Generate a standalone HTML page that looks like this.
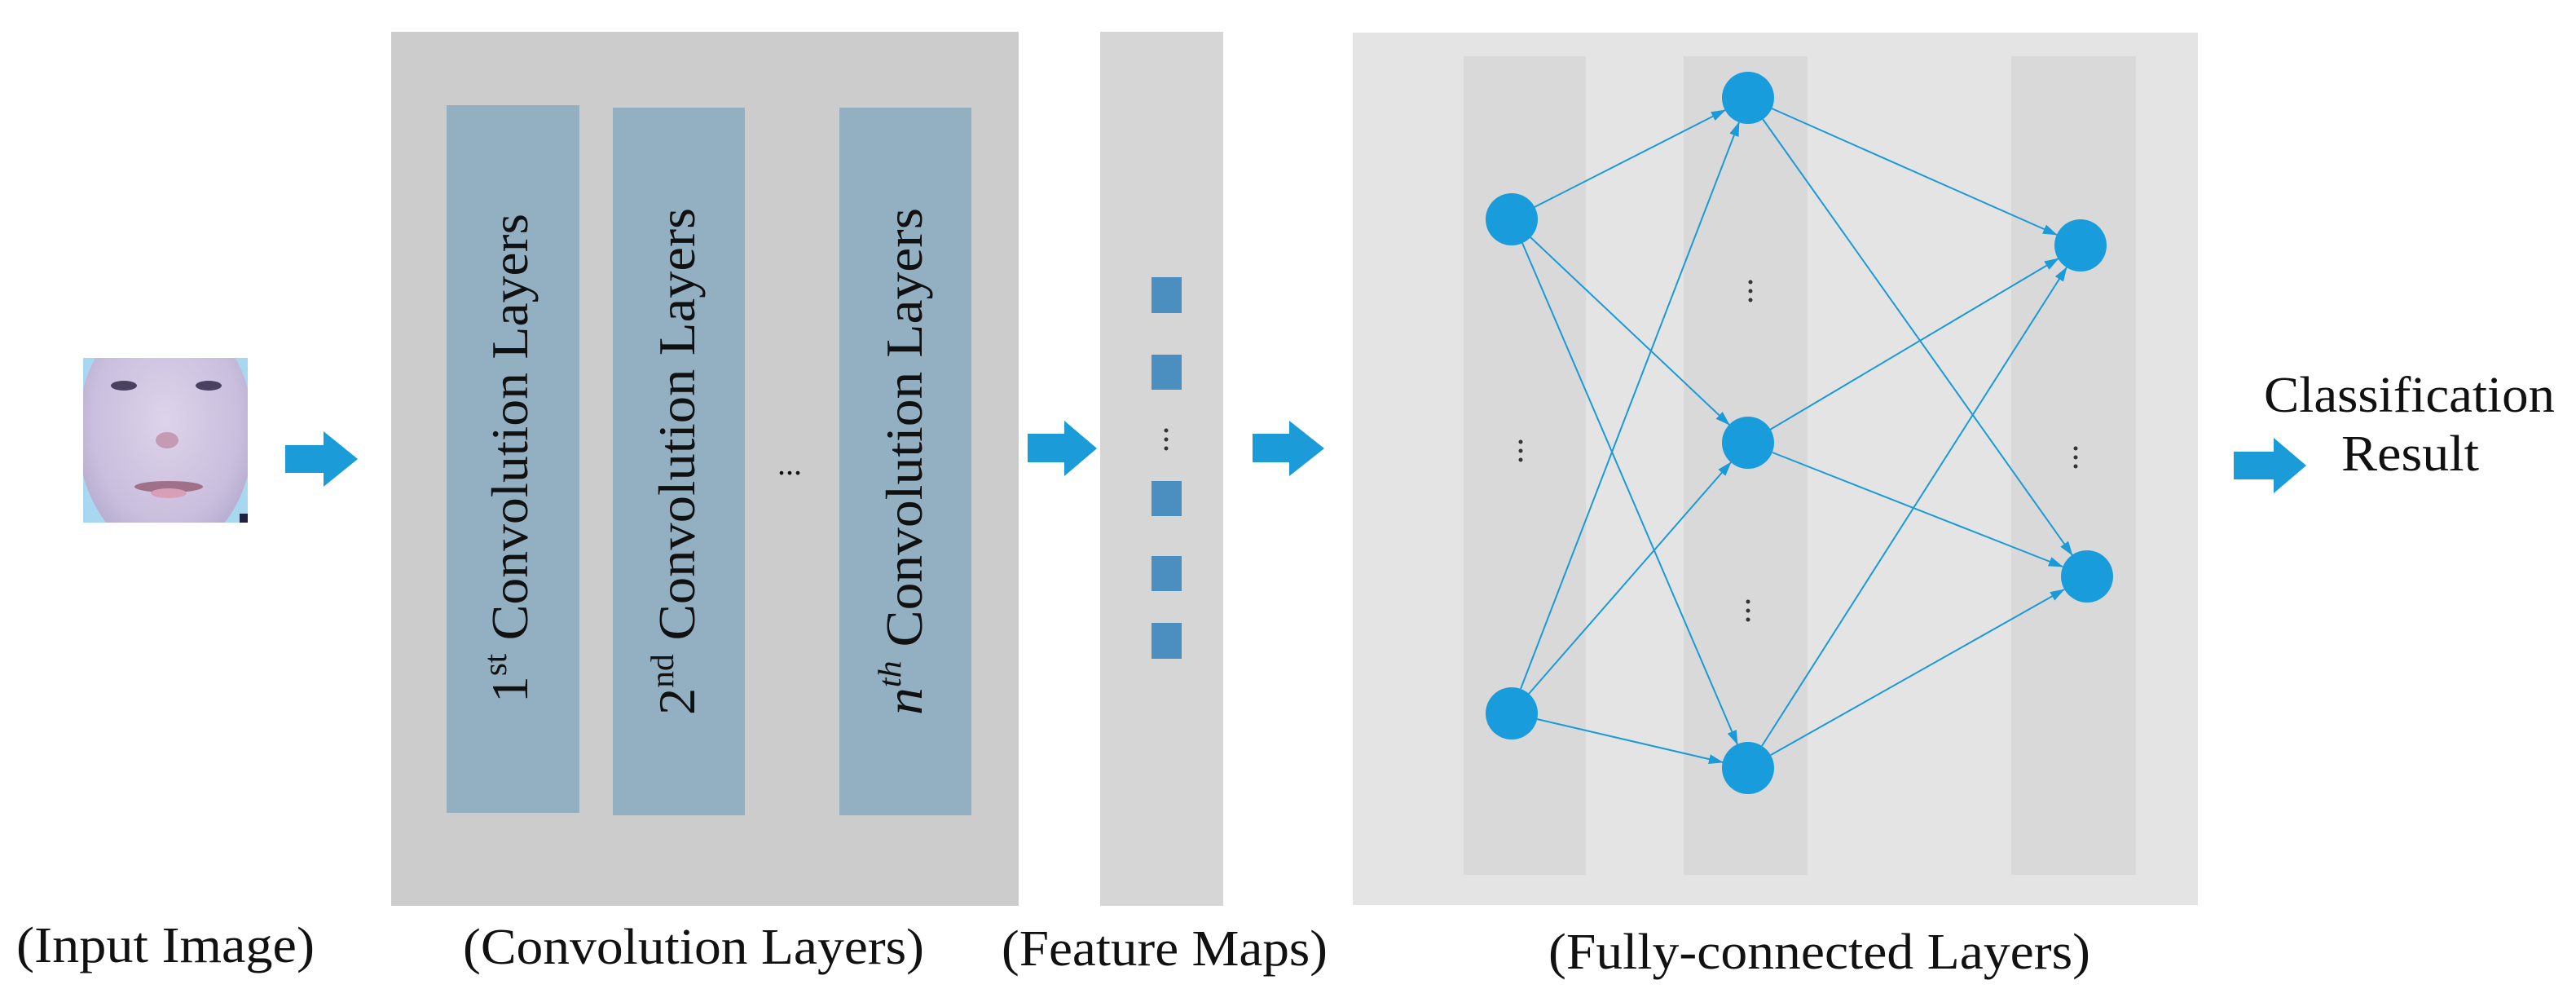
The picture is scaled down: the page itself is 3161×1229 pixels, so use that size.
<!DOCTYPE html>
<html><head><meta charset="utf-8"><style>
html,body{margin:0;padding:0;background:#fff;}
svg{display:block;}
text{font-family:"Liberation Serif",serif;fill:#111;}
</style></head><body>
<svg width="3161" height="1229" viewBox="0 0 3161 1229" xmlns="http://www.w3.org/2000/svg">
<defs>
<marker id="ah" markerUnits="userSpaceOnUse" markerWidth="18" markerHeight="14" refX="17" refY="6" orient="auto">
<path d="M0,0 L18,6 L0,12 z" fill="#1a9ad6"/>
</marker>
<radialGradient id="fg" cx="50%" cy="45%" r="60%">
<stop offset="0%" stop-color="#ddd3ea"/><stop offset="70%" stop-color="#c9bedd"/><stop offset="100%" stop-color="#b0a6cc"/>
</radialGradient>
<clipPath id="fc"><rect x="102" y="439" width="202" height="202"/></clipPath>
</defs>
<rect width="3161" height="1229" fill="#fff"/>

<!-- face -->
<g clip-path="url(#fc)">
<rect x="102" y="439" width="202" height="202" fill="#a8d8ef"/>
<ellipse cx="203" cy="530" rx="108" ry="150" fill="url(#fg)"/>
<ellipse cx="152" cy="473" rx="16" ry="6" fill="#4a4060"/>
<ellipse cx="256" cy="473" rx="16" ry="6" fill="#4a4060"/>
<ellipse cx="205" cy="540" rx="14" ry="10" fill="#c49ab4"/>
<ellipse cx="207" cy="597" rx="42" ry="7" fill="#a07088"/>
<ellipse cx="207" cy="605" rx="22" ry="6" fill="#d8a0b8"/>
<rect x="294" y="630" width="10" height="11" fill="#202040"/>
</g>

<!-- block arrows -->
<g fill="#1b9bd8">
<path d="M350,546 L397,546 L397,529 L439,563 L397,597 L397,580 L350,580 z"/>
<path d="M1261,532 L1306,532 L1306,516 L1346,550 L1306,584 L1306,567 L1261,567 z"/>
<path d="M1537,532 L1582,532 L1582,516 L1625,550 L1582,584 L1582,567 L1537,567 z"/>
<path d="M2741,554 L2790,554 L2790,537 L2830,571 L2790,605 L2790,588 L2741,588 z"/>
</g>

<!-- conv box -->
<rect x="480" y="39" width="770" height="1072" fill="#cccccc"/>
<rect x="548" y="129" width="163" height="868" fill="#93afc2"/>
<rect x="752" y="132" width="162" height="868" fill="#93afc2"/>
<rect x="1030" y="132" width="162" height="868" fill="#93afc2"/>
<text x="969" y="582" font-size="40" text-anchor="middle" fill="#333">...</text>

<text transform="translate(647,862) rotate(-90)" font-size="64" fill="#2a2a2a" textLength="600" lengthAdjust="spacingAndGlyphs">1<tspan font-size="40" dy="-26">st</tspan><tspan dy="26"> Convolution Layers</tspan></text>
<text transform="translate(852,877) rotate(-90)" font-size="64" fill="#2a2a2a" textLength="622" lengthAdjust="spacingAndGlyphs">2<tspan font-size="40" dy="-26">nd</tspan><tspan dy="26"> Convolution Layers</tspan></text>
<text transform="translate(1131,877) rotate(-90)" font-size="64" fill="#2a2a2a" textLength="622" lengthAdjust="spacingAndGlyphs"><tspan font-style="italic">n</tspan><tspan font-size="40" dy="-26" font-style="italic">th</tspan><tspan dy="26">  Convolution Layers</tspan></text>

<!-- feature maps -->
<rect x="1350" y="39" width="151" height="1072" fill="#d6d6d6"/>
<g fill="#4a8fc0">
<rect x="1413" y="340" width="37" height="44"/>
<rect x="1413" y="435" width="37" height="43"/>
<rect x="1413" y="590" width="37" height="43"/>
<rect x="1413" y="682" width="37" height="43"/>
<rect x="1413" y="764" width="37" height="44"/>
</g>
<g fill="#333">
<circle cx="1431" cy="528" r="2.5"/><circle cx="1431" cy="539" r="2.5"/><circle cx="1431" cy="550" r="2.5"/>
</g>

<!-- FC box -->
<rect x="1660" y="40" width="1037" height="1070" fill="#e4e4e4"/>
<rect x="1796" y="69" width="150" height="1004" fill="#d9d9d9"/>
<rect x="2066" y="69" width="152" height="1004" fill="#d9d9d9"/>
<rect x="2468" y="69" width="153" height="1004" fill="#d9d9d9"/>
<g fill="#333">
<circle cx="1866" cy="542" r="2.5"/><circle cx="1866" cy="553" r="2.5"/><circle cx="1866" cy="564" r="2.5"/>
<circle cx="2148" cy="346" r="2.5"/><circle cx="2148" cy="357" r="2.5"/><circle cx="2148" cy="368" r="2.5"/>
<circle cx="2145" cy="738" r="2.5"/><circle cx="2145" cy="749" r="2.5"/><circle cx="2145" cy="760" r="2.5"/>
<circle cx="2547" cy="550" r="2.5"/><circle cx="2547" cy="561" r="2.5"/><circle cx="2547" cy="572" r="2.5"/>
</g>

<g stroke="#1a9ad6" stroke-width="2" marker-end="url(#ah)" fill="none">
<line x1="1883" y1="254" x2="2117" y2="135"/>
<line x1="1878" y1="291" x2="2122" y2="521"/>
<line x1="1868" y1="298" x2="2132" y2="913"/>
<line x1="1866" y1="845" x2="2134" y2="150"/>
<line x1="1876" y1="851" x2="2124" y2="567"/>
<line x1="1886" y1="882" x2="2114" y2="935"/>
<line x1="2174" y1="133" x2="2524" y2="288"/>
<line x1="2163" y1="146" x2="2543" y2="681"/>
<line x1="2172" y1="527" x2="2526" y2="317"/>
<line x1="2175" y1="555" x2="2531" y2="695"/>
<line x1="2162" y1="915" x2="2536" y2="328"/>
<line x1="2173" y1="926" x2="2533" y2="723"/>
</g>
<g fill="#189cdb">
<circle cx="1855" cy="269" r="32"/>
<circle cx="1855" cy="875" r="32"/>
<circle cx="2145" cy="120" r="32"/>
<circle cx="2145" cy="543" r="32"/>
<circle cx="2145" cy="942" r="32"/>
<circle cx="2553" cy="301" r="32"/>
<circle cx="2561" cy="707" r="32"/>
</g>

<!-- labels -->
<text x="20" y="1180" font-size="62" textLength="366" lengthAdjust="spacingAndGlyphs">(Input Image)</text>
<text x="568" y="1182" font-size="62" textLength="566" lengthAdjust="spacingAndGlyphs">(Convolution Layers)</text>
<text x="1229" y="1184" font-size="62" textLength="400" lengthAdjust="spacingAndGlyphs">(Feature Maps)</text>
<text x="1900" y="1188" font-size="62" textLength="665" lengthAdjust="spacingAndGlyphs">(Fully-connected Layers)</text>
<text x="2778" y="505" font-size="62" textLength="357" lengthAdjust="spacingAndGlyphs">Classification</text>
<text x="2873" y="577" font-size="62" textLength="169" lengthAdjust="spacingAndGlyphs">Result</text>
</svg>
</body></html>
